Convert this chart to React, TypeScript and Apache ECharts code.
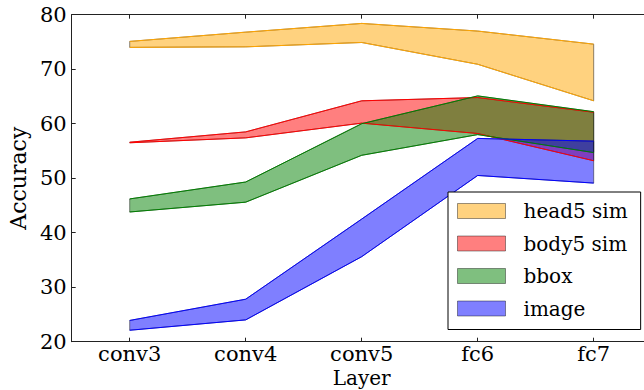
import React, { useEffect, useRef } from "react";
import * as echarts from "echarts";

const categories = ["conv3", "conv4", "conv5", "fc6", "fc7"];
const yTicks = { min: 20, max: 80, interval: 10 };

const head5Upper = [75.1, 76.8, 78.4, 77.0, 74.6];
const head5Lower = [74.0, 74.1, 74.9, 70.9, 64.2];
const body5Upper = [56.6, 58.5, 64.2, 64.8, 62.1];
const body5Lower = [56.5, 57.4, 60.1, 58.2, 53.2];
const bboxUpper = [46.2, 49.3, 60.0, 65.1, 62.2];
const bboxLower = [43.8, 45.6, 54.2, 58.0, 54.7];
const imageUpper = [23.9, 27.8, 42.5, 57.3, 56.8];
const imageLower = [22.1, 24.0, 35.6, 50.5, 49.1];

const bands = [
  { name: "head5 sim", upper: head5Upper, lower: head5Lower, line: "#FFA500", fill: "rgba(255,165,0,0.5)" },
  { name: "body5 sim", upper: body5Upper, lower: body5Lower, line: "#FF0000", fill: "rgba(255,0,0,0.5)" },
  { name: "bbox", upper: bboxUpper, lower: bboxLower, line: "#008000", fill: "rgba(0,128,0,0.5)" },
  { name: "image", upper: imageUpper, lower: imageLower, line: "#0000FF", fill: "rgba(0,0,255,0.5)" },
];

const FONT = "DejaVu Serif";

export default function App() {
  const ref = useRef<HTMLDivElement>(null);
  useEffect(() => {
    if (!ref.current) return;
    const chart = echarts.init(ref.current, null, { renderer: "svg" });
    const series: any[] = [];
    bands.forEach((b) => {
      series.push({
        type: "custom",
        name: b.name,
        data: [[0, b.upper[0]]],
        silent: true,
        renderItem: (_p: any, api: any) => {
          const pts: number[][] = [];
          for (let i = 0; i < b.upper.length; i++) pts.push(api.coord([i, b.upper[i]]));
          for (let i = b.lower.length - 1; i >= 0; i--) pts.push(api.coord([i, b.lower[i]]));
          return {
            type: "polygon",
            shape: { points: pts },
            style: { fill: b.fill, stroke: "rgba(0,0,0,0.45)", lineWidth: 1 },
          };
        },
      });
      series.push({
        type: "line",
        name: b.name + " upper",
        data: b.upper,
        symbol: "none",
        silent: true,
        lineStyle: { color: b.line, width: 1 },
      });
      series.push({
        type: "line",
        name: b.name + " lower",
        data: b.lower,
        symbol: "none",
        silent: true,
        lineStyle: { color: b.line, width: 1 },
      });
    });

    const axisLine = { show: true, lineStyle: { color: "#222", width: 1 } };
    chart.setOption({
      animation: false,
      grid: { left: 71.7, top: 14.7, width: 580, height: 327, containLabel: false, outerBoundsMode: "none" },
      legend: {
        orient: "vertical",
        left: 448,
        top: 192,
        backgroundColor: "#fff",
        borderColor: "#000",
        borderWidth: 1,
        borderRadius: 0,
        padding: [9, 13, 11, 9],
        itemWidth: 48,
        itemHeight: 15,
        itemGap: 12.5,
        selectedMode: false,
        textStyle: { fontFamily: FONT, fontSize: 20, color: "#000", padding: [0, 0, 0, 13] },
        data: bands.map((b) => ({
          name: b.name,
          icon: "rect",
          itemStyle: { color: b.fill, borderColor: "rgba(0,0,0,0.4)", borderWidth: 1 },
        })),
      },
      xAxis: [
        {
          type: "category",
          data: categories,
          boundaryGap: true,
          position: "bottom",
          name: "Layer",
          nameLocation: "middle",
          nameGap: 27,
          nameMoveOverlap: false,
          nameTextStyle: { fontFamily: FONT, fontSize: 20, color: "#000", verticalAlign: "top", lineHeight: 18 },
          axisLine,
          axisTick: { show: true, inside: true, alignWithLabel: true, length: 4, lineStyle: { color: "#222" } },
          axisLabel: { fontFamily: FONT, fontSize: 21, color: "#000", margin: 4, lineHeight: 16 },
          splitLine: { show: false },
        },
        {
          type: "category",
          data: categories,
          boundaryGap: true,
          position: "top",
          axisLine,
          axisTick: { show: true, inside: true, alignWithLabel: true, length: 4, lineStyle: { color: "#222" } },
          axisLabel: { show: false },
          splitLine: { show: false },
        },
      ],
      yAxis: {
        type: "value",
        min: yTicks.min,
        max: yTicks.max,
        interval: yTicks.interval,
        name: "Accuracy",
        nameLocation: "middle",
        nameRotate: 90,
        nameGap: 40,
        nameTextStyle: { fontFamily: FONT, fontSize: 22, color: "#000" },
        axisLine,
        axisTick: { show: true, inside: true, length: 4, lineStyle: { color: "#222" } },
        axisLabel: { fontFamily: FONT, fontSize: 21, color: "#000", margin: 5 },
        splitLine: { show: false },
      },
      series,
    });
    return () => chart.dispose();
  }, []);
  return (
    <div
      ref={ref}
      style={{ position: "absolute", left: 0, top: 0, width: 644, height: 390, background: "#fff" }}
    />
  );
}
